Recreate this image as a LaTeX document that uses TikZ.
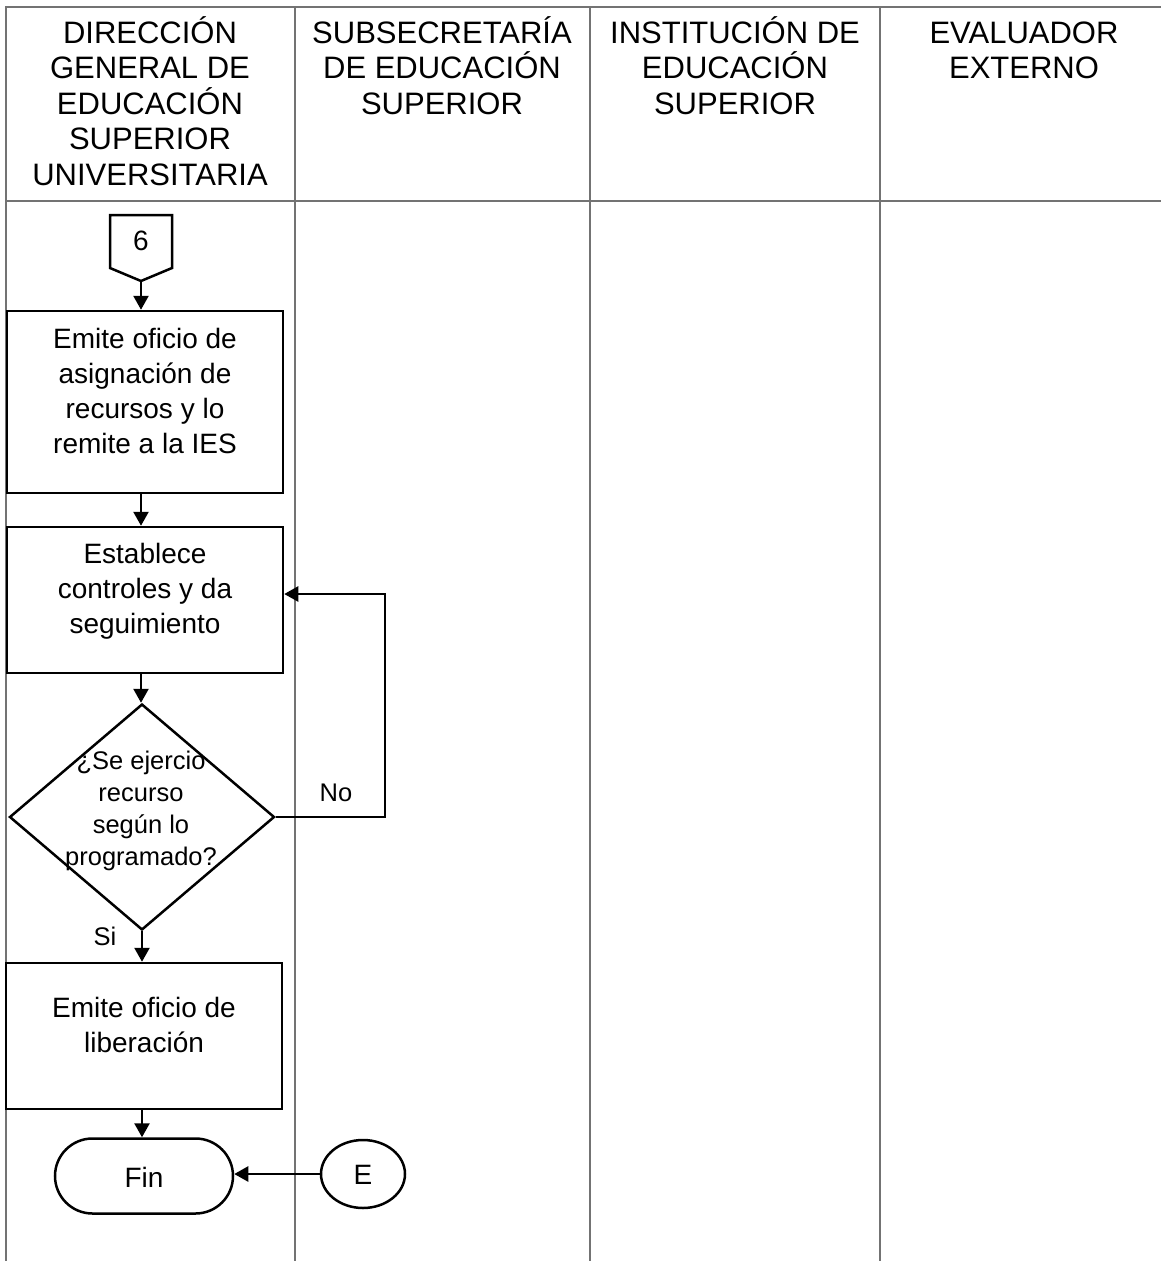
\documentclass[tikz,border=0pt]{standalone}
\usepackage{fontspec}
\setmainfont{Liberation Sans}
\usetikzlibrary{shapes.geometric,shapes.misc,arrows.meta}
\begin{document}
\begin{tikzpicture}[x=1pt,y=-1pt,
  grid/.style={line width=1.2pt,draw=black!55},
  shp/.style={draw=black,line width=2.5pt,inner sep=0pt},
  procbox/.style={shp,rectangle,minimum width=276pt},
  hdr/.style={align=center,font=\fontsize{31}{35.5}\selectfont,inner sep=0pt},
  txt/.style={align=center,font=\fontsize{28}{35}\selectfont,inner sep=0pt},
  dtxt/.style={align=center,font=\fontsize{25.5}{32}\selectfont,inner sep=0pt},
  lbl/.style={font=\fontsize{25.5}{30}\selectfont,inner sep=0pt},
  flow/.style={line width=2.5pt,-{Triangle[length=14pt,width=15pt]}}]
\useasboundingbox (0,0) rectangle (1161,1261);
% table
\draw[grid] (5,7) -- (1161,7);
\draw[grid] (5,201) -- (1161,201);
\draw[grid] (6,7) -- (6,1261);
\draw[grid] (295,7) -- (295,1261);
\draw[grid] (590,7) -- (590,1261);
\draw[grid] (880,7) -- (880,1261);
% headers
\node[hdr,anchor=north] (h1) at (150,16) {\vphantom{ÓÍ}DIRECCIÓN\\GENERAL DE\\EDUCACIÓN\\SUPERIOR\\UNIVERSITARIA};
\node[hdr,anchor=north] (h2) at (442,16) {\vphantom{ÓÍ}SUBSECRETARÍA\\DE EDUCACIÓN\\SUPERIOR};
\node[hdr,anchor=north] (h3) at (735,16) {\vphantom{ÓÍ}INSTITUCIÓN DE\\EDUCACIÓN\\SUPERIOR};
\node[hdr,anchor=north] (h4) at (1024,16) {\vphantom{ÓÍ}EVALUADOR\\EXTERNO};
% off-page connector 6
\draw[shp] (110,215) -- (172,215) -- (172,268) -- (141,281) -- (110,268) -- cycle;
\coordinate (c6tip) at (141,281);
\node[txt] (c6) at (141,241) {6};
% boxes
\node[procbox,minimum height=182pt] (b1) at (145,402) {};
\node[txt] (t1) at (145,391) {Emite oficio de\\asignación de\\recursos y lo\\remite a la IES};
\node[procbox,minimum height=146pt] (b2) at (145,600) {};
\node[txt] (t2) at (145,591.5) {Establece\\controles y da\\seguimiento};
\node[shp,diamond,minimum width=265pt,minimum height=226pt] (d) at (142,817) {};
\node[dtxt] (dt) at (141,811) {¿Se ejercio\\recurso\\según lo\\programado?};
\node[procbox,minimum height=146pt] (b3) at (144,1036) {};
\node[txt] (t3) at (144,1025) {Emite oficio de\\liberación};
\node[shp,rounded rectangle,minimum width=178pt,minimum height=75pt] (fin) at (144,1176) {};
\node[txt] (tfin) at (144,1177) {Fin};
\node[shp,ellipse,minimum width=84pt,minimum height=68pt] (e) at (363,1174) {};
\node[txt] (te) at (363,1175) {E};
% flows
\draw[flow] (c6tip) -- (b1.north -| c6tip);
\draw[flow] (b1.south -| c6tip) -- (b2.north -| c6tip);
\draw[flow] (b2.south -| c6tip) -- (d.north -| c6tip);
\draw[flow] (d.south) -- (b3.north -| d.south);
\draw[flow] (b3.south -| d.south) -- (fin.north -| d.south);
\draw[flow] (e.west) -- (fin.east |- e.west);
\coordinate (loopc) at (385,817);
\draw[flow] (d.east) -- (loopc) -- (loopc |- 594,594) -- (b2.east |- 594,594);
\node[lbl] (no) at (336,793) {No};
\node[lbl] (si) at (105,936) {Si};
\end{tikzpicture}
\end{document}
